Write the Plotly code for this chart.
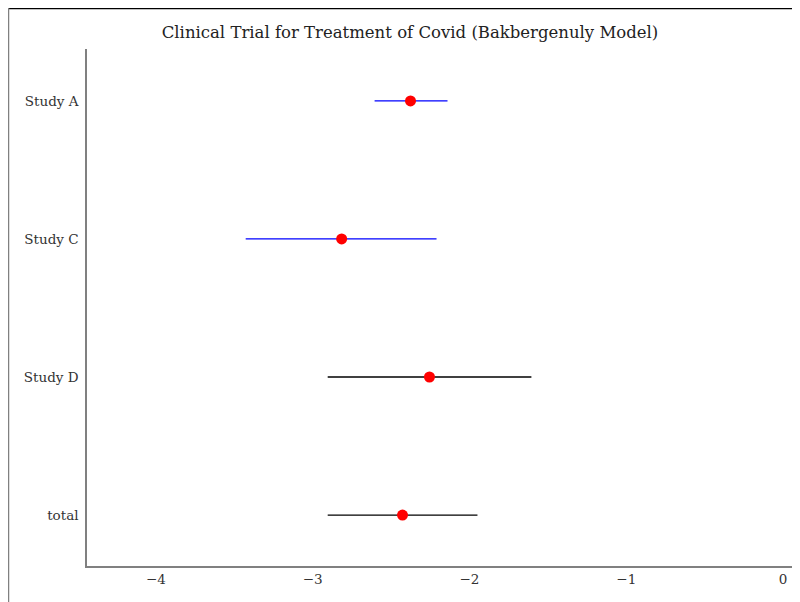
import plotly.graph_objects as go

studies = ["Study A", "Study C", "Study D", "total"]
estimates = [-2.376, -2.815, -2.255, -2.427]
ci_low = [-2.605, -3.427, -2.904, -2.904]
ci_high = [-2.140, -2.210, -1.605, -1.949]
line_colors = ["blue", "blue", "black", "black"]
category_order = ["total", "Study D", "Study C", "Study A"]
x_ticks = [-4, -3, -2, -1, 0]

fig = go.Figure()
for s, e, lo, hi, c in zip(studies, estimates, ci_low, ci_high, line_colors):
    fig.add_trace(go.Scatter(x=[lo, hi], y=[s, s], mode="lines",
                             line=dict(color=c, width=1.3), showlegend=False, hoverinfo="skip"))
fig.add_trace(go.Scatter(x=estimates, y=studies, mode="markers",
                         marker=dict(color="red", size=11), showlegend=False))

W, H = 800, 602
L, R, T, B = 79, 13, 41, 44
pw, ph = W - L - R, H - T - B

def px(x):
    return (x - L) / pw

def py(y):
    return (H - B - y) / ph

fig.add_shape(type="line", xref="paper", yref="paper", x0=px(0), x1=px(800), y0=py(0.5), y1=py(0.5),
              line=dict(color="black", width=1.5))
fig.add_shape(type="line", xref="paper", yref="paper", x0=px(0.5), x1=px(0.5), y0=py(0), y1=py(602),
              line=dict(color="gray", width=1.5))

fig.update_layout(
    width=W, height=H,
    margin=dict(l=L, r=R, t=T, b=B),
    paper_bgcolor="white", plot_bgcolor="white",
    font=dict(family="DejaVu Serif, Liberation Serif, serif", size=13.5, color="#333"),
    title=dict(text="Clinical Trial for Treatment of Covid (Bakbergenuly Model)",
               x=402 / 800, xanchor="center", y=1 - 24 / 602, yanchor="middle",
               font=dict(size=16.5, color="#222")),
    xaxis=dict(range=[-4.439, 0.076], tickvals=x_ticks, ticktext=["\u22124", "\u22123", "\u22122", "\u22121", "0"],
               showgrid=False, zeroline=False, showline=True, linecolor="gray", linewidth=1.5,
               ticks="", ticklen=0),
    yaxis=dict(type="category", categoryorder="array", categoryarray=category_order,
               range=[-0.369, 3.376], showgrid=False, zeroline=False, showline=True,
               linecolor="gray", linewidth=1.5, ticks="", ticklabelstandoff=4),
)
fig.write_html("out.html")
